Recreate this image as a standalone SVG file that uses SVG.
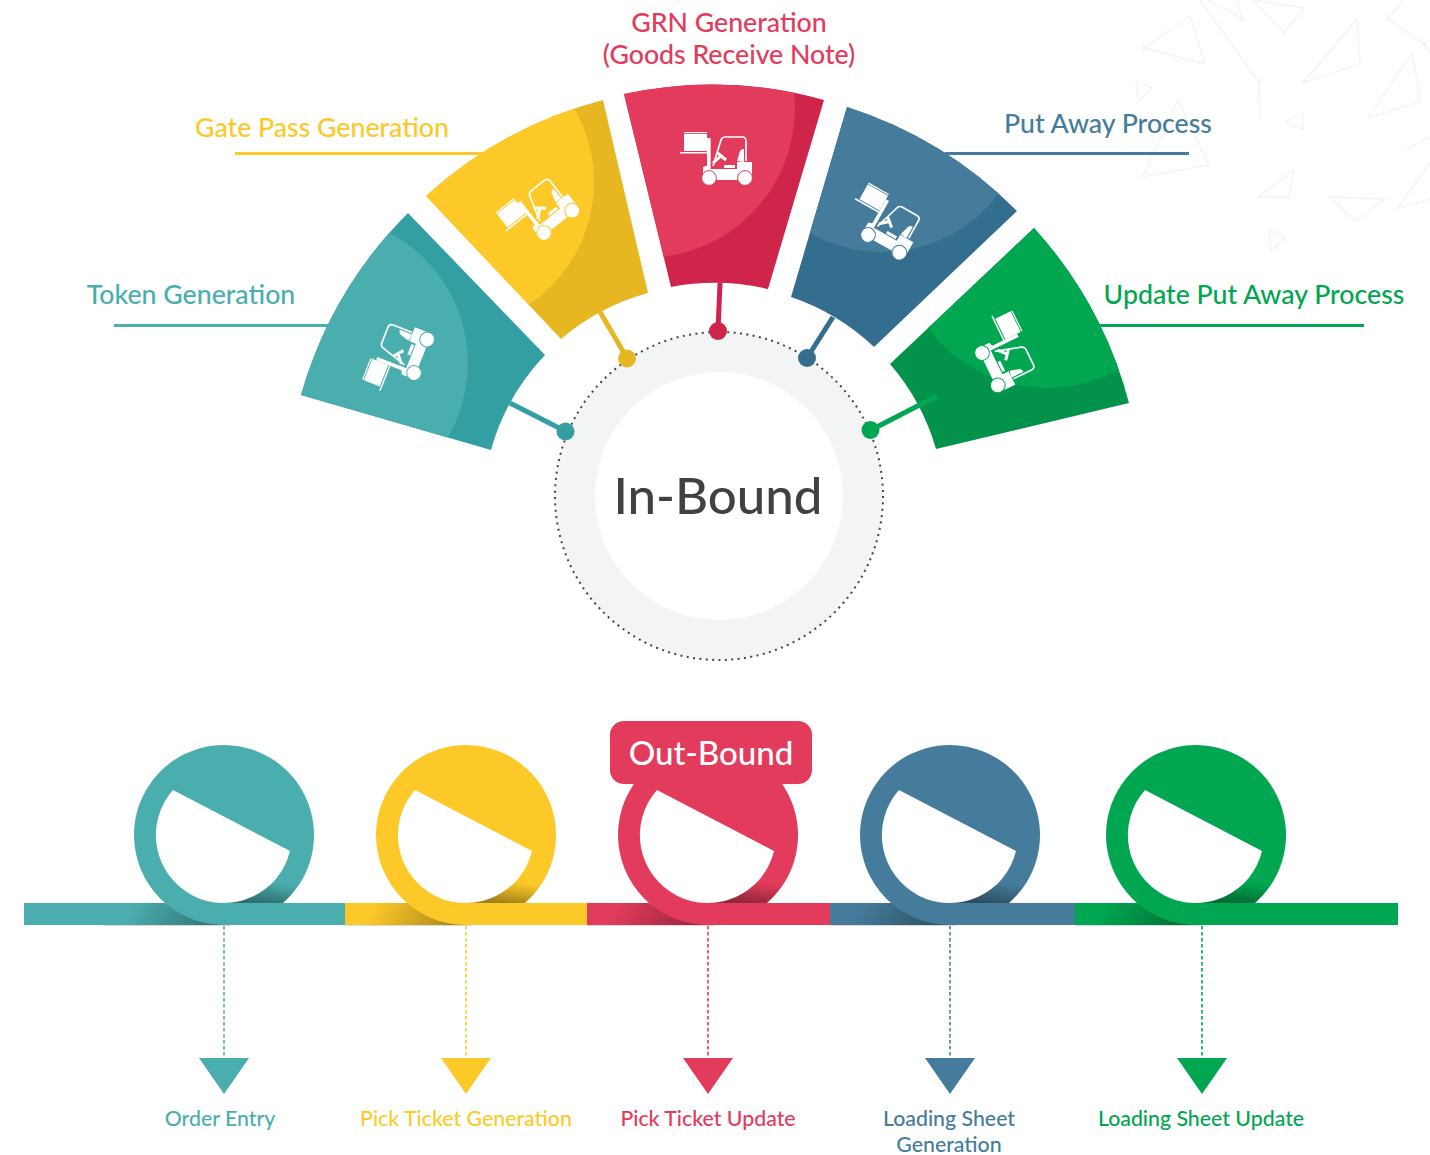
<svg xmlns="http://www.w3.org/2000/svg" xmlns:xlink="http://www.w3.org/1999/xlink" width="1430" height="1155" viewBox="0 0 1430 1155">
<style>
text{font-family:Lato,"Open Sans","Liberation Sans",sans-serif;text-anchor:middle;font-weight:500}
.lab{font-size:26.7px}
.sub{font-size:21.3px}
.teal{fill:#4aaeae;color:#4aaeae}.yellow{fill:#fdc928;color:#fdc928}.red{fill:#e33b5b;color:#e33b5b}.blue{fill:#457c9b;color:#457c9b}.green{fill:#00a650;color:#00a650}
.bg{fill:none;stroke:#f3f3f3;stroke-width:1.3}
.ld{fill:none;stroke-width:5}
.dash{fill:none;stroke-width:1.6;stroke-dasharray:3.5 2.5}
.ul{fill:none;stroke-width:3}
.faint{fill:#000;opacity:.14}
</style>
<defs>
<symbol id="fork" overflow="visible" viewBox="-40 -30 80 60" width="80" height="60" x="-40" y="-30">
<g fill="#fff">
<rect x="-33" y="-23" width="23" height="17"/>
<rect x="-33" y="-25" width="23" height="1.2"/>
<rect x="-37" y="-5" width="27.5" height="1.5"/>
<rect x="-10" y="-19" width="3.6" height="34"/>
<path d="M-14 10 L-8 8 L-7 12 H20 V5 H35 V23 H-14Z"/>
<path d="M20 4 L23 -6 Q24 -8 27 -8 V5Z"/>
<rect x="7" y="8" width="11" height="3"/>
<circle cx="-8" cy="21" r="7.4" stroke="currentColor" stroke-width="1"/>
<circle cx="28" cy="21" r="7.4" stroke="currentColor" stroke-width="1"/>
</g>
<path d="M-4 6 L5 -2M0.700 -4 L9 3" fill="none" stroke="#fff" stroke-width="3"/>
<path d="M-4 9 L4 -17 Q5 -20 8 -20 L25 -20 Q29 -20 29 -16 V4" fill="none" stroke="#fff" stroke-width="1.7"/>
</symbol>
<linearGradient id="barSh" gradientUnits="objectBoundingBox" x1="0.1" y1="0" x2="1" y2="0.1"><stop offset="0" stop-color="#000" stop-opacity="0"/><stop offset="1" stop-color="#000" stop-opacity=".34"/></linearGradient>
<linearGradient id="ringSh" gradientUnits="objectBoundingBox" x1="0.95" y1="0" x2="0.55" y2="1"><stop offset=".35" stop-color="#000" stop-opacity="0"/><stop offset="1" stop-color="#000" stop-opacity=".36"/></linearGradient>
<clipPath id="cTeal"><path id="wTeal" d="M301 395A420 420 0 0 1 408 213L545 355A225 225 0 0 0 491 450Z"/></clipPath>
<clipPath id="cYellow"><path d="M426 196A420 420 0 0 1 603 100L648 293A225 225 0 0 0 561 339Z"/></clipPath>
<clipPath id="cRed"><path d="M624 94A416 416 0 0 1 824 100L768 289A235 235 0 0 0 671 287Z"/></clipPath>
<clipPath id="cBlue"><path d="M847 107A420 420 0 0 1 1017 211L874 347A225 225 0 0 0 791 297Z"/></clipPath>
<clipPath id="cGreen"><path d="M1034 228A420 420 0 0 1 1129 403L936 449A225 225 0 0 0 890 364Z"/></clipPath>
</defs>
<rect width="1430" height="1155" fill="#fff"/>
<g id="background">
<path class="bg" d="M1144 48L1190 16L1205 64ZM1136 81L1152 88L1138 102ZM1178 100L1209 165L1143 177ZM1200 0L1259 82L1260 120M1208 0L1242 19L1237 0M1253 0L1304 8L1284 33ZM1304 82L1357 19L1360 64ZM1368 118L1412 53L1421 101ZM1403 0L1388 19L1424 44L1430 53M1285 122L1303 113L1303 129ZM1406 150L1430 137M1258 197L1294 170L1289 197ZM1329 197L1385 199L1356 221ZM1430 163L1397 209L1430 199M1269 230L1285 237L1271 251Z"/>
<g fill="#f3f3f3"><circle cx="1144" cy="48" r="2"/><circle cx="1259" cy="82" r="2"/><circle cx="1242" cy="19" r="2"/><circle cx="1284" cy="33" r="2"/><circle cx="1304" cy="82" r="2"/><circle cx="1388" cy="19" r="2"/><circle cx="1424" cy="44" r="2"/></g>
</g>
<g id="hub">
<circle cx="719" cy="496" r="164" fill="#f3f4f6" stroke="#444" stroke-width="2" stroke-dasharray="2 4.400"/>
<circle cx="719" cy="496" r="124" fill="#fff"/>
<text x="718" y="514" font-size="51" fill="#414042">In-Bound</text>
</g>
<g id="node-token">
<g clip-path="url(#cTeal)"><rect x="290" y="200" width="270" height="260" fill="#339fa3"/><circle cx="321" cy="363" r="147" fill="#4aaeae"/></g>
<use href="#fork" transform="translate(397.4 357.9) rotate(-68.5)" style="color:#4aaeae"/>
<text class="lab teal" x="191" y="304">Token Generation</text>
<path class="ul" stroke="#4aaeae" d="M114 325.500H331"/>
</g>
<g id="node-gate">
<g clip-path="url(#cYellow)"><rect x="420" y="90" width="240" height="260" fill="#e6b720"/><circle cx="446" cy="182" r="148" fill="#fdc928"/></g>
<use href="#fork" transform="translate(537.2 211.6) rotate(-38.4)" style="color:#fdc928"/>
<text class="lab yellow" x="322" y="137">Gate Pass Generation</text>
<path class="ul" stroke="#fdc928" d="M235 153.500H486"/>
</g>
<g id="node-grn">
<g clip-path="url(#cRed)"><rect x="615" y="80" width="220" height="215" fill="#cf254b"/><circle cx="645" cy="108" r="150" fill="#e33b5b"/></g>
<use href="#fork" transform="translate(717 157)" style="color:#e33b5b"/>
<text class="lab red" x="729" y="32">GRN Generation</text>
<text class="lab red" x="729" y="64">(Goods Receive Note)</text>
</g>
<g id="node-putaway">
<g clip-path="url(#cBlue)"><rect x="785" y="100" width="240" height="255" fill="#336e8e"/><circle cx="882" cy="106" r="146" fill="#457c9b"/></g>
<use href="#fork" transform="translate(885.300 220.600) rotate(29.4)" style="color:#457c9b"/>
<text class="lab blue" x="1108" y="133">Put Away Process</text>
<path class="ul" stroke="#457c9b" d="M945 153.500H1189"/>
</g>
<g id="node-update">
<g clip-path="url(#cGreen)"><rect x="885" y="222" width="250" height="232" fill="#03924a"/><circle cx="1047" cy="240" r="148" fill="#00a650"/></g>
<use href="#fork" transform="translate(1004.400 351) rotate(64)" style="color:#00a650"/>
<text class="lab green" x="1254" y="304">Update Put Away Process</text>
<path class="ul" stroke="#00a650" d="M1100 325.500H1364"/>
</g>
<g id="connectors">
<path class="ld" stroke="#339fa3" d="M510 403L565 431"/><circle cx="565.500" cy="431.500" r="9" fill="#339fa3"/>
<path class="ld" stroke="#e6b720" d="M600 312L627 358"/><circle cx="627" cy="358.500" r="9" fill="#e6b720"/>
<path class="ld" stroke="#cf254b" d="M720 283L718 331"/><circle cx="718" cy="331" r="9" fill="#cf254b"/>
<path class="ld" stroke="#336e8e" d="M833 317L807 358"/><circle cx="807" cy="358" r="9" fill="#336e8e"/>
<path class="ld" stroke="#00a650" d="M937 396L871 430"/><circle cx="870.500" cy="430" r="9" fill="#00a650"/>
</g>
<g id="bar">
<rect class="teal" x="24" y="903" width="321" height="22"/>
<rect class="yellow" x="345" y="903" width="242" height="22"/>
<rect class="red" x="587" y="903" width="243" height="22"/>
<rect class="blue" x="830" y="903" width="245" height="22"/>
<rect class="green" x="1075" y="903" width="323" height="22"/>
<rect class="faint" x="103" y="925" width="127" height="1"/>
<rect class="faint" x="345" y="925" width="127" height="1"/>
<rect class="faint" x="587" y="925" width="127" height="1"/>
<rect class="faint" x="830" y="925" width="126" height="1"/>
<rect class="faint" x="1075" y="925" width="127" height="1"/>
</g>
<g id="out-1">
<rect x="124" y="903" width="100" height="22" fill="url(#barSh)"/>
<g class="teal" transform="translate(224 835)"><path fill-rule="evenodd" d="M-90 0A90 90 0 1 1 59 68L0 90A90 90 0 0 1 -90 0ZM-51 -45L66 16A68 68 0 1 1 -51 -45Z"/><path d="M0 68A68 68 0 0 0 56 38L74 51A90 90 0 0 1 59 68Z" fill="url(#ringSh)"/><path d="M0 68H59L0 90Z"/></g>
<path class="dash" stroke="#4aaeae" d="M224 926V1060"/>
<path class="teal" d="M199 1058H249L224 1094Z"/>
<text class="sub teal" x="220" y="1126">Order Entry</text>
</g>
<g id="out-2">
<rect x="366" y="903" width="100" height="22" fill="url(#barSh)"/>
<g class="yellow" transform="translate(466 835)"><path fill-rule="evenodd" d="M-90 0A90 90 0 1 1 59 68L0 90A90 90 0 0 1 -90 0ZM-51 -45L66 16A68 68 0 1 1 -51 -45Z"/><path d="M0 68A68 68 0 0 0 56 38L74 51A90 90 0 0 1 59 68Z" fill="url(#ringSh)"/><path d="M0 68H59L0 90Z"/></g>
<path class="dash" stroke="#fdc928" d="M466 926V1060"/>
<path class="yellow" d="M441 1058H491L466 1094Z"/>
<text class="sub yellow" x="466" y="1126">Pick Ticket Generation</text>
</g>
<g id="out-3">
<rect x="608" y="903" width="100" height="22" fill="url(#barSh)"/>
<g class="red" transform="translate(708 835)"><path fill-rule="evenodd" d="M-90 0A90 90 0 1 1 59 68L0 90A90 90 0 0 1 -90 0ZM-51 -45L66 16A68 68 0 1 1 -51 -45Z"/><path d="M0 68A68 68 0 0 0 56 38L74 51A90 90 0 0 1 59 68Z" fill="url(#ringSh)"/><path d="M0 68H59L0 90Z"/></g>
<path class="dash" stroke="#e33b5b" d="M708 926V1060"/>
<path class="red" d="M683 1058H733L708 1094Z"/>
<text class="sub red" x="708" y="1126">Pick Ticket Update</text>
</g>
<g id="out-4">
<rect x="850" y="903" width="100" height="22" fill="url(#barSh)"/>
<g class="blue" transform="translate(950 835)"><path fill-rule="evenodd" d="M-90 0A90 90 0 1 1 59 68L0 90A90 90 0 0 1 -90 0ZM-51 -45L66 16A68 68 0 1 1 -51 -45Z"/><path d="M0 68A68 68 0 0 0 56 38L74 51A90 90 0 0 1 59 68Z" fill="url(#ringSh)"/><path d="M0 68H59L0 90Z"/></g>
<path class="dash" stroke="#457c9b" d="M950 926V1060"/>
<path class="blue" d="M925 1058H975L950 1094Z"/>
<text class="sub blue" x="949" y="1126">Loading Sheet</text>
<text class="sub blue" x="949" y="1152">Generation</text>
</g>
<g id="out-5">
<rect x="1096" y="903" width="100" height="22" fill="url(#barSh)"/>
<g class="green" transform="translate(1196 835)"><path fill-rule="evenodd" d="M-90 0A90 90 0 1 1 59 68L0 90A90 90 0 0 1 -90 0ZM-51 -45L66 16A68 68 0 1 1 -51 -45Z"/><path d="M0 68A68 68 0 0 0 56 38L74 51A90 90 0 0 1 59 68Z" fill="url(#ringSh)"/><path d="M0 68H59L0 90Z"/></g>
<path class="dash" stroke="#00a650" d="M1202 926V1060"/>
<path class="green" d="M1177 1058H1227L1202 1094Z"/>
<text class="sub green" x="1201" y="1126">Loading Sheet Update</text>
</g>
<g id="outbound-label">
<rect class="red" x="610" y="721" width="202" height="63" rx="14"/>
<text x="711" y="765" font-size="33.100" fill="#fff">Out-Bound</text>
</g>
</svg>
